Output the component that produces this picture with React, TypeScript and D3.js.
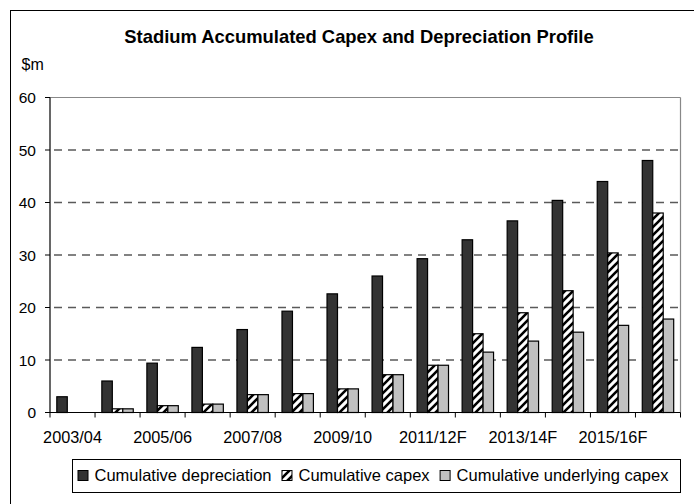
import React from "react";
import * as d3 from "d3";

const categories = [
  "2003/04", "2004/05", "2005/06", "2006/07", "2007/08", "2008/09", "2009/10",
  "2010/11", "2011/12F", "2012/13F", "2013/14F", "2014/15F", "2015/16F", "2016/17F",
];
const cumulativeDepreciation = [3.0, 6.0, 9.4, 12.4, 15.8, 19.3, 22.6, 26.0, 29.3, 32.9, 36.5, 40.4, 44.0, 48.0];
const cumulativeCapex = [0, 0.7, 1.3, 1.6, 3.4, 3.6, 4.5, 7.2, 9.0, 15.0, 19.0, 23.2, 30.4, 38.0];
const cumulativeUnderlyingCapex = [0, 0.7, 1.3, 1.6, 3.4, 3.6, 4.5, 7.2, 9.0, 11.5, 13.6, 15.3, 16.6, 17.8];
const seriesNames = ["Cumulative depreciation", "Cumulative capex", "Cumulative underlying capex"];
const yTicks = [0, 10, 20, 30, 40, 50, 60];

const W = 694;
const H = 504;
const FONT = "Arial, 'Liberation Sans', sans-serif";

const plot = { left: 50, right: 680.5, top: 97.5, bottom: 412.5 };

const fills = ["#333333", "url(#hatch)", "#c0c0c0"];

export default function App() {
  const x = d3
    .scaleBand<string>()
    .domain(categories)
    .range([plot.left, plot.right])
    .paddingInner(0)
    .paddingOuter(0);
  const step = x.bandwidth();
  const bw = step / 4.3; // three bars plus a 130% gap
  const groupOffset = (step - 3 * bw) / 2;

  const y = d3.scaleLinear().domain([0, 60]).range([plot.bottom, plot.top]);

  const series = [cumulativeDepreciation, cumulativeCapex, cumulativeUnderlyingCapex];

  // legend layout
  const legendFont = 16.5;
  const measure = (t: string) => {
    // approximate Arial advance widths
    const widths: Record<string, number> = {
      C: 722, u: 556, m: 833, l: 222, a: 556, t: 278, i: 222, v: 500, e: 556, " ": 278,
      d: 556, p: 556, r: 333, c: 500, o: 556, n: 556, x: 500, y: 500, g: 556,
    };
    let s = 0;
    for (const ch of t) s += widths[ch] ?? 556;
    return (s / 1000) * legendFont;
  };
  let lx = 78;
  const legendItems = seriesNames.map((name, i) => {
    const item = { name, i, mx: lx, tx: lx + 16.5 };
    lx = item.tx + measure(name) + 10.5;
    return item;
  });

  const xLabelIdx = categories.map((_, i) => i).filter((i) => i % 2 === 0);

  return (
    <svg
      width={W}
      height={H}
      style={{ position: "absolute", left: 0, top: 0, background: "#fff" }}
      fontFamily={FONT}
    >
      <defs>
        <pattern id="hatch" patternUnits="userSpaceOnUse" width={8} height={8}>
          <rect width={8} height={8} fill="#fff" />
          <path
            d="M-2,2 L2,-2 M0,8 L8,0 M6,10 L10,6"
            stroke="#000"
            strokeWidth={2.6}
          />
        </pattern>
      </defs>

      <rect x={0} y={0} width={W} height={H} fill="#fff" />
      {/* chart area frame */}
      <rect x={10.5} y={10.5} width={W + 20} height={H + 20} fill="none" stroke="#000" strokeWidth={1} />

      <text x={359} y={43} textAnchor="middle" fontWeight="bold" fontSize={18.4} fill="#000">
        Stadium Accumulated Capex and Depreciation Profile
      </text>
      <text x={21.5} y={70} fontSize={16} fill="#000">
        $m
      </text>

      {/* plot area border */}
      <line x1={plot.left} x2={plot.right} y1={plot.top} y2={plot.top} stroke="#888" strokeWidth={1.2} />
      <line x1={plot.right} x2={plot.right} y1={plot.top} y2={plot.bottom} stroke="#888" strokeWidth={1.2} />

      {/* gridlines */}
      {yTicks
        .filter((t) => t > 0 && t < 60)
        .map((t) => (
          <line
            key={t}
            x1={plot.left}
            x2={plot.right}
            y1={y(t)}
            y2={y(t)}
            stroke="#5a5a5a"
            strokeWidth={1.3}
            strokeDasharray="8,6"
            strokeDashoffset={-4}
          />
        ))}

      {/* bars */}
      {categories.map((c, ci) =>
        series.map((vals, si) => {
          const v = vals[ci];
          if (!v) return null;
          const bx = (x(c) as number) + groupOffset + si * bw;
          return (
            <rect
              key={`${ci}-${si}`}
              x={bx}
              y={y(v)}
              width={bw}
              height={y(0) - y(v)}
              fill={fills[si]}
              stroke="#000"
              strokeWidth={1.2}
            />
          );
        })
      )}

      {/* y axis */}
      <line x1={plot.left} x2={plot.left} y1={plot.top} y2={plot.bottom} stroke="#000" strokeWidth={1.2} />
      {yTicks.map((t) => (
        <g key={t}>
          <line x1={plot.left - 5} x2={plot.left} y1={y(t)} y2={y(t)} stroke="#000" strokeWidth={1} />
          <text x={36} y={y(t) + 5.5} textAnchor="end" fontSize={15.5} fill="#000">
            {t}
          </text>
        </g>
      ))}

      {/* x axis */}
      <line x1={plot.left} x2={plot.right} y1={plot.bottom} y2={plot.bottom} stroke="#000" strokeWidth={1.2} />
      {categories.map((c, i) => (
        <line
          key={c}
          x1={x(c) as number}
          x2={x(c) as number}
          y1={plot.bottom}
          y2={plot.bottom + 5}
          stroke="#000"
          strokeWidth={1}
        />
      ))}
      <line x1={plot.right} x2={plot.right} y1={plot.bottom} y2={plot.bottom + 5} stroke="#000" strokeWidth={1} />
      {xLabelIdx.map((i) => (
        <text
          key={categories[i]}
          x={(x(categories[i]) as number) + step / 2}
          y={442.5}
          textAnchor="middle"
          fontSize={16.3}
          fill="#000"
        >
          {categories[i]}
        </text>
      ))}

      {/* legend */}
      <rect x={72.5} y={459.5} width={608} height={33} fill="#fff" stroke="#000" strokeWidth={1} />
      {legendItems.map((it) => (
        <g key={it.name}>
          <rect
            x={it.mx}
            y={470.5}
            width={10}
            height={10}
            fill={fills[it.i]}
            stroke="#000"
            strokeWidth={1}
          />
          <text x={it.tx} y={481} fontSize={legendFont} fill="#000">
            {it.name}
          </text>
        </g>
      ))}
    </svg>
  );
}
